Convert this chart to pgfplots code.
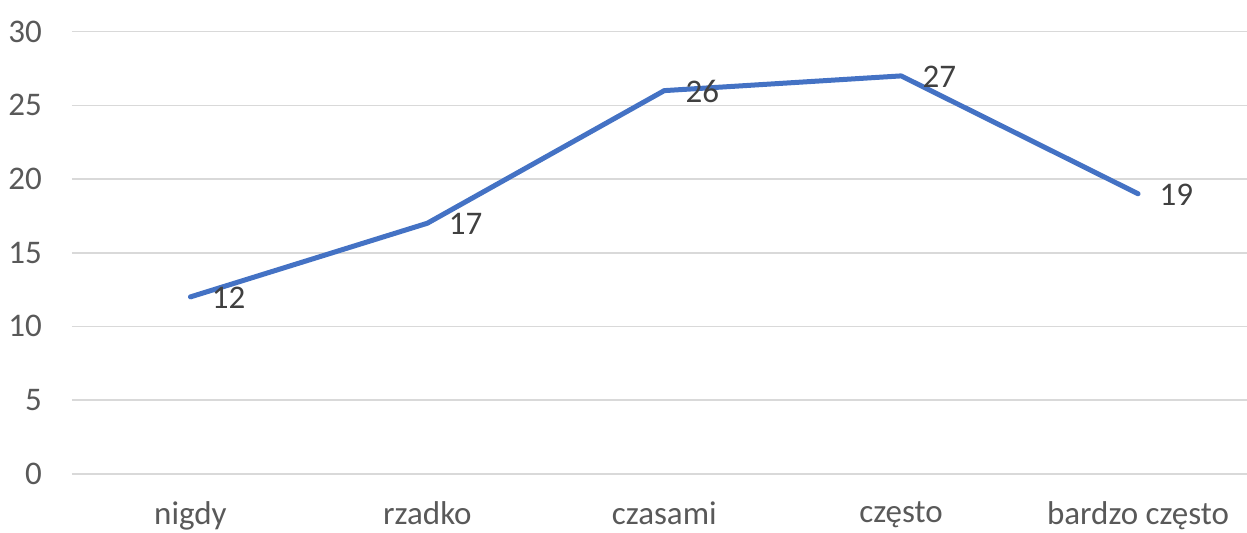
\documentclass[border=0pt]{standalone}
\usepackage{fontspec}
\setmainfont{Carlito}
\usepackage{pgfplots}
\pgfplotsset{compat=1.18}
\definecolor{lineblue}{HTML}{4472C4}
\definecolor{gridgray}{HTML}{D9D9D9}
\definecolor{ticktext}{HTML}{595959}
\definecolor{labeltext}{HTML}{404040}
\begin{document}
\begin{tikzpicture}
\fontsize{33}{40}\selectfont
\begin{axis}[
  name=ax,
  scale only axis,
  width=1175pt, height=442pt,
  xmin=-0.5, xmax=4.46,
  ymin=0, ymax=30,
  ytick={0,5,10,15,20,25,30},
  xtick={0,1,2,3,4},
  xticklabels={nigdy,rzadko,czasami,często,bardzo często},
  axis line style={draw=none},
  ymajorgrids,
  grid style={gridgray, line width=1.6pt},
  major tick length=0pt,
  tick style={draw=none},
  every tick label/.append style={font=\fontsize{33}{40}\selectfont, text=ticktext},
  /pgf/number format/assume math mode=true,
  yticklabel style={inner sep=0pt, xshift=-30pt},
  xticklabel style={inner sep=0pt, yshift=-28pt},
  clip=false,
]
\draw[gridgray, line width=1.6pt] (axis cs:-0.5,0) -- (axis cs:4.46,0);
\addplot[lineblue, line width=5pt, line join=round, line cap=round,
  nodes near coords,
  every node near coord/.append style={anchor=west, xshift=19pt, yshift=-1pt, inner sep=0pt,
    font=\fontsize{33}{40}\selectfont, text=labeltext}]
  coordinates {(0,12) (1,17) (2,26) (3,27) (4,19)};
\end{axis}
\pgfresetboundingbox
\path ([xshift=-72pt,yshift=-58.5pt]ax.south west) rectangle ([yshift=31.7pt]ax.north east);
\end{tikzpicture}
\end{document}
